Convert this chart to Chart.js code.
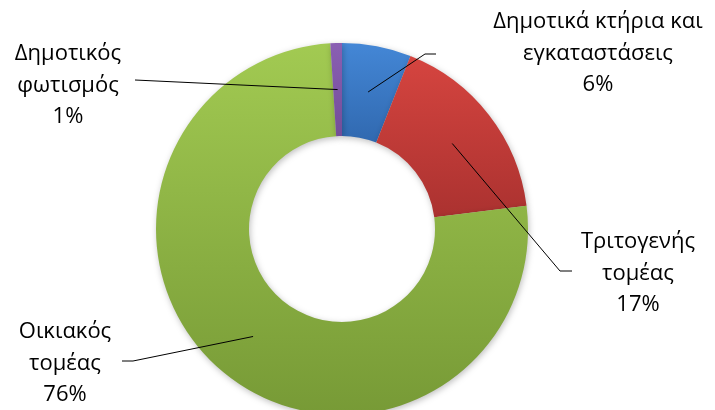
<!DOCTYPE html>
<html>
<head>
<meta charset="utf-8">
<script src="https://cdn.jsdelivr.net/npm/chart.js@4/dist/chart.umd.min.js"></script>
<style>
  html, body { margin: 0; padding: 0; background: #fff; overflow: hidden; }
  #wrap { width: 715px; height: 420px; position: relative; }
</style>
</head>
<body>
<div id="wrap"><canvas id="energy_chart"></canvas></div>
<script>
// energy consumption by sector (%)
var sector_labels = [
    ['Δημοτικά κτήρια και', 'εγκαταστάσεις'],
    ['Τριτογενής', 'τομέας'],
    ['Οικιακός', 'τομέας'],
    ['Δημοτικός', 'φωτισμός']
];
var sector_values = [6, 17, 76, 1];

// vertical shading per slice: [offset, colour]
var sector_shades = [
    [[0, '#4487d6'], [0.3, '#2e65ab'], [1, '#2e65ab']],
    [[0.05, '#d4443f'], [0.6, '#9e2c2b'], [1, '#9e2c2b']],
    [[0, '#a2ca52'], [1, '#779a36']],
    [[0, '#8a5fb3'], [0.3, '#6f4a93'], [1, '#6f4a93']]
];

// where each label block sits and how its leader line bends
var label_layout = [
    { x: 598, y: 22, elbow: [425, 54], end: [436, 54] },
    { x: 638, y: 242, elbow: [560, 271], end: [572, 271] },
    { x: 65, y: 332, elbow: [133, 361], end: [122, 361] },
    { x: 68, y: 54, elbow: [135, 80], end: [135, 80] }
];
var line_height = 31.5;

var shadePlugin = {
    id: 'shade',
    beforeDatasetsDraw: function(chart){
        var ctx = chart.ctx;
        ctx.save();
        ctx.shadowColor = 'rgba(0,0,0,0.25)';
        ctx.shadowBlur = 6;
        ctx.shadowOffsetX = 1;
        ctx.shadowOffsetY = 2;
    },
    afterDatasetsDraw: function(chart){
        chart.ctx.restore();
    }
};

var calloutPlugin = {
    id: 'callouts',
    afterDraw: function(chart){
        var ctx = chart.ctx;
        var arcs = chart.getDatasetMeta(0).data;
        ctx.save();
        ctx.strokeStyle = '#000';
        ctx.lineWidth = 1;
        arcs.forEach(function(arc, i){
            var p = arc.getCenterPoint();
            var lay = label_layout[i];
            ctx.beginPath();
            ctx.moveTo(p.x, p.y);
            ctx.lineTo(lay.elbow[0], lay.elbow[1]);
            ctx.lineTo(lay.end[0], lay.end[1]);
            ctx.stroke();
        });
        ctx.fillStyle = '#000';
        ctx.font = '22px "Open Sans", "Noto Sans", sans-serif';
        ctx.textAlign = 'center';
        ctx.textBaseline = 'middle';
        sector_labels.forEach(function(lines, i){
            var lay = label_layout[i];
            var all = lines.concat([sector_values[i] + '%']);
            all.forEach(function(t, k){
                ctx.fillText(t, lay.x, lay.y + k * line_height);
            });
        });
        ctx.restore();
    }
};

var energy_chart = document.getElementById('energy_chart').getContext('2d');
var chart1 = new Chart(energy_chart, {
    type: 'doughnut',
    data: {
        labels: sector_labels.map(function(l){ return l.join(' '); }),
        datasets: [{
            data: sector_values,
            backgroundColor: function(c){
                var area = c.chart.chartArea;
                var stops = sector_shades[c.dataIndex];
                if(!area) return stops[0][1];
                var g = c.chart.ctx.createLinearGradient(0, area.top, 0, area.bottom);
                stops.forEach(function(s){ g.addColorStop(s[0], s[1]); });
                return g;
            },
            borderWidth: 0
        }]
    },
    options: {
        responsive: true,
        maintainAspectRatio: false,
        animation: false,
        cutout: '50%',
        layout: { padding: { left: 156, top: 43, right: 187, bottom: 5 } },
        plugins: {
            legend: { display: false },
            tooltip: { enabled: false }
        }
    },
    plugins: [shadePlugin, calloutPlugin]
});
</script>
</body>
</html>
